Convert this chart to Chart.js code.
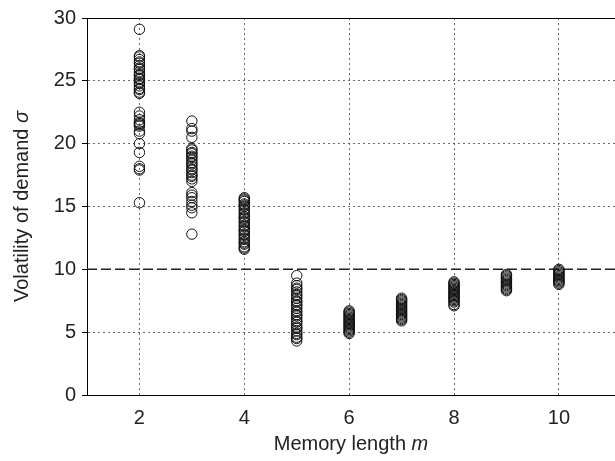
<!DOCTYPE html>
<html><head><meta charset="utf-8">
<script src="https://cdn.jsdelivr.net/npm/chart.js@4/dist/chart.umd.min.js"></script>
<style>html,body{margin:0;padding:0;background:#fff}#wrap{width:615px;height:461px}</style>
</head><body><div id="wrap"><canvas id="c" width="615" height="461"></canvas></div>
<script>
const memoryLengths = [2, 3, 4, 5, 6, 7, 8, 9, 10];
const sigmaM2 = [29.1, 27.0, 26.9, 26.7, 26.5, 26.4, 26.2, 26.0, 25.9, 25.7, 25.5, 25.4, 25.2, 25.1, 24.9, 24.8, 24.6, 24.4, 24.3, 24.1, 24.0, 22.5, 22.2, 21.9, 21.7, 21.6, 21.5, 21.4, 21.0, 20.8, 20.0, 19.3, 18.2, 18.0, 17.9, 15.3];
const sigmaM3 = [21.8, 21.2, 21.0, 20.5, 19.6, 19.5, 19.3, 19.2, 19.0, 18.9, 18.7, 18.5, 18.4, 18.2, 18.0, 17.9, 17.7, 17.5, 17.4, 17.2, 17.0, 16.1, 15.9, 15.7, 15.4, 15.1, 14.9, 14.5, 12.8];
const sigmaM4 = [15.7, 15.6, 15.5, 15.4, 15.2, 15.1, 15.0, 14.8, 14.7, 14.5, 14.4, 14.2, 14.1, 14.0, 13.8, 13.7, 13.5, 13.4, 13.2, 13.1, 13.0, 12.8, 12.7, 12.5, 12.4, 12.2, 12.1, 12.0, 11.8, 11.7, 11.6];
const sigmaM5 = [9.5, 8.9, 8.7, 8.5, 8.4, 8.2, 8.0, 7.9, 7.7, 7.5, 7.4, 7.2, 7.1, 6.9, 6.7, 6.6, 6.4, 6.3, 6.1, 5.9, 5.8, 5.6, 5.4, 5.3, 5.1, 4.9, 4.8, 4.6, 4.5, 4.3];
const sigmaM6 = [6.7, 6.6, 6.5, 6.4, 6.3, 6.2, 6.1, 6.0, 5.9, 5.8, 5.7, 5.6, 5.5, 5.4, 5.3, 5.2, 5.1, 5.0, 4.9];
const sigmaM7 = [7.7, 7.6, 7.5, 7.4, 7.3, 7.2, 7.1, 7.0, 6.9, 6.8, 6.7, 6.6, 6.5, 6.4, 6.3, 6.2, 6.1, 6.0, 5.9];
const sigmaM8 = [9.0, 8.9, 8.8, 8.7, 8.6, 8.5, 8.4, 8.3, 8.2, 8.1, 8.0, 7.9, 7.8, 7.7, 7.6, 7.5, 7.4, 7.2, 7.1];
const sigmaM9 = [9.6, 9.5, 9.4, 9.3, 9.2, 9.1, 9.0, 8.9, 8.8, 8.7, 8.6, 8.5, 8.4, 8.3];
const sigmaM10 = [10.0, 9.9, 9.8, 9.7, 9.6, 9.5, 9.4, 9.3, 9.2, 9.1, 9.0, 8.9, 8.8];
const referenceLevel = 10;
const xTicks = [2, 4, 6, 8, 10];
const yTicks = [0, 5, 10, 15, 20, 25, 30];
const xRange = [1, 11.07];
const yRange = [0, 30];

const allSeries = [sigmaM2, sigmaM3, sigmaM4, sigmaM5, sigmaM6, sigmaM7, sigmaM8, sigmaM9, sigmaM10];
const points = [];
memoryLengths.forEach((m, i) => allSeries[i].forEach(v => points.push({x: m, y: v})));

const FONT = "'Liberation Sans', Arial, Helvetica, sans-serif";
const FS = 20;

const decor = {
  id: 'decor',
  afterDraw(chart) {
    const ctx = chart.ctx, a = chart.chartArea;
    ctx.save();
    ctx.strokeStyle = '#000'; ctx.lineWidth = 1;
    ctx.beginPath(); ctx.moveTo(a.left, a.top + 0.5); ctx.lineTo(a.right, a.top + 0.5); ctx.stroke();
    ctx.fillStyle = '#222';
    const p1 = 'Memory length ', p2 = 'm';
    ctx.font = FS + 'px ' + FONT;
    const w1 = ctx.measureText(p1).width;
    ctx.font = 'italic ' + FS + 'px ' + FONT;
    const w2 = ctx.measureText(p2).width;
    const cx = 351;
    let x0 = cx - (w1 + w2) / 2;
    ctx.textBaseline = 'middle'; ctx.textAlign = 'left';
    ctx.font = FS + 'px ' + FONT; ctx.fillText(p1, x0, 444);
    ctx.font = 'italic ' + FS + 'px ' + FONT; ctx.fillText(p2, x0 + w1, 444);
    const q1 = 'Volatility of demand ', q2 = 'σ';
    ctx.font = FS + 'px ' + FONT;
    const v1 = ctx.measureText(q1).width;
    ctx.font = 'italic ' + FS + 'px ' + FONT;
    const v2 = ctx.measureText(q2).width;
    ctx.translate(22, (a.top + a.bottom) / 2);
    ctx.rotate(-Math.PI / 2);
    let y0 = -(v1 + v2) / 2;
    ctx.font = FS + 'px ' + FONT; ctx.fillText(q1, y0, 0);
    ctx.font = 'italic ' + FS + 'px ' + FONT; ctx.fillText(q2, y0 + v1, 0);
    ctx.restore();
  }
};

new Chart(document.getElementById('c'), {
  type: 'scatter',
  data: {
    datasets: [
      {
        data: points,
        pointStyle: 'circle',
        pointRadius: 5.2,
        pointBorderWidth: 1,
        pointBorderColor: '#111',
        pointBackgroundColor: 'rgba(0,0,0,0)',
        showLine: false,
        order: 1
      },
      {
        type: 'line',
        data: xRange.map(x => ({x: x, y: referenceLevel})),
        borderColor: '#222',
        borderWidth: 1.5,
        borderDash: [10, 4],
        pointRadius: 0,
        fill: false,
        order: 2
      }
    ]
  },
  options: {
    responsive: false,
    animation: false,
    layout: {autoPadding: false, padding: {top: 15, right: 0, left: 0, bottom: 0}},
    plugins: {legend: {display: false}, tooltip: {enabled: false}},
    scales: {
      x: {
        type: 'linear', min: xRange[0], max: xRange[1],
        afterBuildTicks: s => { s.ticks = xTicks.map(v => ({value: v})); },
        afterFit: s => { s.height = 66; },
        grid: {color: '#444', lineWidth: 0.8, drawTicks: false},
        border: {display: true, color: '#000', width: 1, dash: [2, 3]},
        ticks: {font: {family: FONT, size: FS}, color: '#222', padding: 11, maxRotation: 0}
      },
      y: {
        type: 'linear', min: yRange[0], max: yRange[1],
        afterBuildTicks: s => { s.ticks = yTicks.map(v => ({value: v})); },
        afterFit: s => { s.width = 87; },
        grid: {
          color: ctx => (ctx.tick && (ctx.tick.value === referenceLevel || ctx.tick.value === yRange[1] || ctx.tick.value === yRange[0])) ? 'rgba(0,0,0,0)' : '#444',
          lineWidth: 0.8, drawTicks: true, tickLength: 5, tickColor: '#000', tickWidth: 1
        },
        border: {display: true, color: '#000', width: 1, dash: [2, 3]},
        ticks: {font: {family: FONT, size: FS}, color: '#222', padding: 6}
      }
    }
  },
  plugins: [decor]
});
</script>
</body></html>
